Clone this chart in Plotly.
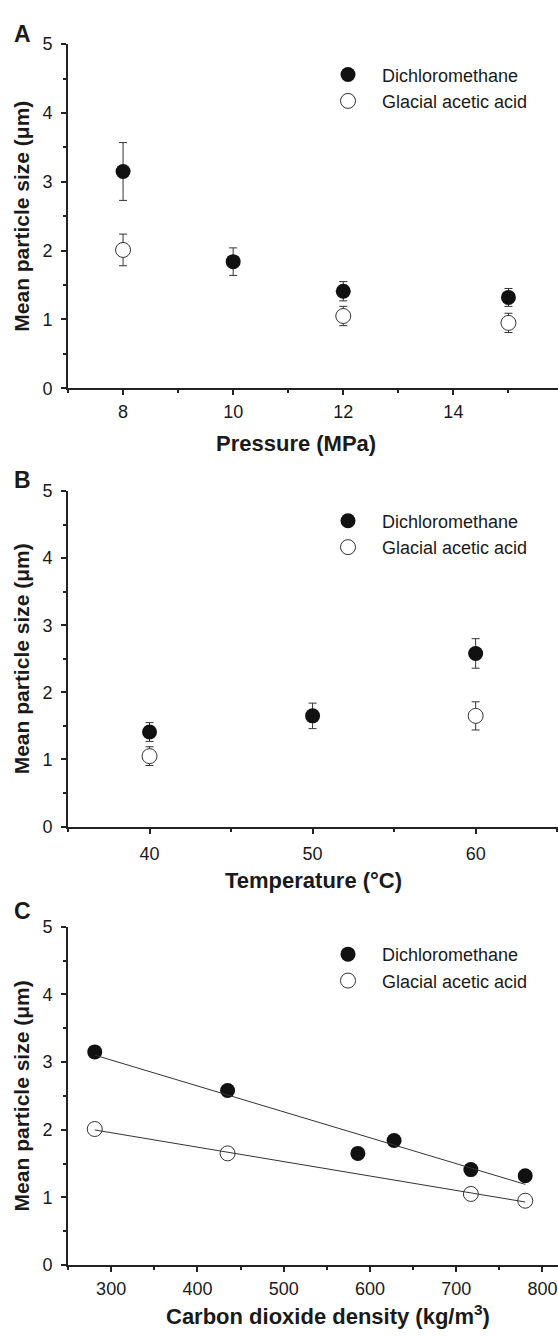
import numpy as np
import plotly.graph_objects as go

# ---------------- data ----------------
# Panel A: pressure series
pressure_dcm = [8, 10, 12, 15]
size_dcm_A = [3.15, 1.84, 1.41, 1.32]
err_dcm_A = [0.42, 0.20, 0.14, 0.13]
pressure_gaa = [8, 12, 15]
size_gaa_A = [2.01, 1.05, 0.95]
err_gaa_A = [0.23, 0.14, 0.14]

# Panel B: temperature series
temp_dcm = [40, 50, 60]
size_dcm_B = [1.41, 1.65, 2.58]
err_dcm_B = [0.14, 0.19, 0.22]
temp_gaa = [40, 60]
size_gaa_B = [1.05, 1.65]
err_gaa_B = [0.14, 0.21]

# Panel C: CO2 density series
density_dcm = [281, 435, 586, 628, 717, 780]
size_dcm_C = [3.15, 2.58, 1.65, 1.84, 1.41, 1.32]
density_gaa = [281, 435, 717, 780]
size_gaa_C = [2.01, 1.65, 1.05, 0.95]

series_names = ["Dichloromethane", "Glacial acetic acid"]
y_ticks = [0, 1, 2, 3, 4, 5]

# ---------------- style ----------------
W, H = 558, 1339
FONT = "Liberation Sans, Arial, Helvetica, sans-serif"
TXT = "#1a1a1a"
AX = "#222222"
FILL = "#111111"


def px_x(p):
    return p / W


def px_y(p):
    return 1 - p / H


fig = go.Figure()

panels = [
    dict(key="", leg="legend", x1=pressure_dcm, y1=size_dcm_A, e1=err_dcm_A,
         x2=pressure_gaa, y2=size_gaa_A, e2=err_gaa_A),
    dict(key="2", leg="legend2", x1=temp_dcm, y1=size_dcm_B, e1=err_dcm_B,
         x2=temp_gaa, y2=size_gaa_B, e2=err_gaa_B),
    dict(key="3", leg="legend3", x1=density_dcm, y1=size_dcm_C, e1=None,
         x2=density_gaa, y2=size_gaa_C, e2=None),
]

for p in panels:
    xa = "x" + p["key"]
    ya = "y" + p["key"]
    ey1 = dict(type="data", array=p["e1"], thickness=1, width=4, color="#333") if p["e1"] else None
    ey2 = dict(type="data", array=p["e2"], thickness=1, width=4, color="#333") if p["e2"] else None
    fig.add_trace(go.Scatter(
        x=p["x1"], y=p["y1"], mode="markers", name=series_names[0],
        marker=dict(size=15, color=FILL, line=dict(width=0)),
        error_y=ey1, xaxis=xa, yaxis=ya, legend=p["leg"], cliponaxis=False))
    fig.add_trace(go.Scatter(
        x=p["x2"], y=p["y2"], mode="markers", name=series_names[1],
        marker=dict(size=15, color="white", line=dict(width=1, color="#333")),
        error_y=ey2, xaxis=xa, yaxis=ya, legend=p["leg"], cliponaxis=False))

# linear fits in panel C
for xs, ys in [(density_dcm, size_dcm_C), (density_gaa, size_gaa_C)]:
    k, b = np.polyfit(xs, ys, 1)
    xf = [min(xs), max(xs)]
    fig.add_trace(go.Scatter(
        x=xf, y=[k * v + b for v in xf], mode="lines",
        line=dict(color="#333", width=1), showlegend=False,
        xaxis="x3", yaxis="y3", hoverinfo="skip"))

x_dom = [px_x(68), 1.0]
y_doms = [
    [px_y(384), px_y(34.7)],
    [px_y(829), px_y(488.3)],
    [px_y(1274), px_y(930.7)],
]
x_ranges = [[7, 15.9], [35, 65.05], [250, 818]]
x_tick0 = [8, 40, 300]
x_dtick = [2, 10, 100]
x_minor = [1, 5, 50]
x_standoff = [1, 5, 1]


def axis_common():
    return dict(
        showline=True, linecolor=AX, linewidth=2, mirror=False,
        showgrid=False, zeroline=False,
        ticks="outside", ticklen=5, tickwidth=1.5, tickcolor=AX,
        tickfont=dict(family=FONT, size=18, color=TXT),
        fixedrange=True,
    )


for i in range(3):
    suffix = "" if i == 0 else str(i + 1)
    xa = axis_common()
    xa.update(domain=x_dom, range=x_ranges[i], tickmode="linear",
              tick0=x_tick0[i], dtick=x_dtick[i],
              anchor="y" + suffix, ticklabelstandoff=x_standoff[i],
              minor=dict(dtick=x_minor[i], tick0=x_ranges[i][0], ticks="outside",
                         ticklen=3, tickwidth=1.5, tickcolor=AX))
    ya = axis_common()
    ya.update(domain=y_doms[i], range=[0, 5], tickmode="array",
              tickvals=y_ticks, ticktext=[str(v) for v in y_ticks],
              anchor="x" + suffix, ticklabelstandoff=5,
              minor=dict(dtick=0.5, tick0=0, ticks="outside",
                         ticklen=3, tickwidth=1.5, tickcolor=AX))
    fig.layout["xaxis" + suffix] = xa
    fig.layout["yaxis" + suffix] = ya

# legends
leg_tops = [47, 500, 940]
for i, top in enumerate(leg_tops):
    name = "legend" if i == 0 else "legend" + str(i + 1)
    fig.layout[name] = dict(
        x=px_x(314), y=px_y(top), xanchor="left", yanchor="top",
        font=dict(family=FONT, size=18, color=TXT),
        itemwidth=58, bgcolor="rgba(0,0,0,0)", borderwidth=0,
        tracegroupgap=0)

annotations = []
# panel letters
for letter, yc in [("A", 24), ("B", 477), ("C", 915)]:
    annotations.append(dict(
        text="<b>%s</b>" % letter, x=px_x(12), y=px_y(yc), xref="paper", yref="paper",
        xanchor="left", yanchor="middle", showarrow=False,
        font=dict(family=FONT, size=23, color=TXT)))
# y titles
for yc in [(34.7 + 384) / 2, (488.3 + 829) / 2, (930.7 + 1274) / 2]:
    annotations.append(dict(
        text="<b>Mean particle size (μm)</b>", x=px_x(21.5), y=px_y(yc),
        xref="paper", yref="paper", xanchor="center", yanchor="middle",
        textangle=-90, showarrow=False,
        font=dict(family=FONT, size=21, color=TXT)))
# x titles
for txt, xc, yc in [("Pressure (MPa)", 296, 440.5),
                    ("Temperature (°C)", 313, 884),
                    ("Carbon dioxide density (kg/m<sup>3</sup>)", 328, 1325)]:
    annotations.append(dict(
        text="<b>%s</b>" % txt, x=px_x(xc), y=px_y(yc), xref="paper", yref="paper",
        xanchor="center", yanchor="middle", showarrow=False,
        font=dict(family=FONT, size=22, color=TXT)))

fig.update_layout(
    width=W, height=H,
    margin=dict(l=0, r=0, t=0, b=0),
    paper_bgcolor="white", plot_bgcolor="white",
    font=dict(family=FONT, color=TXT),
    annotations=annotations,
    showlegend=True,
)

fig.write_html(
    "out.html",
    config={"displayModeBar": False},
    post_script="document.body.style.margin='0';document.body.style.padding='0';"
                "document.body.style.overflow='hidden';"
                "document.documentElement.style.overflow='hidden';",
)
